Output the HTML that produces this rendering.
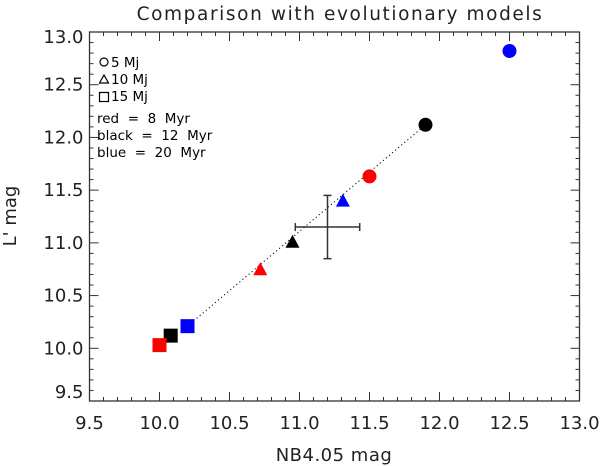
<!DOCTYPE html>
<html><head><meta charset="utf-8"><style>
html,body{margin:0;padding:0;background:#fff;}
svg{display:block;font-family:"DejaVu Sans","Liberation Sans",sans-serif;}
</style></head><body>
<svg id="chart" width="602" height="466" viewBox="0 0 602 466" xmlns="http://www.w3.org/2000/svg">
<text x="340" y="20" font-size="18.5" text-anchor="middle" fill="#222" letter-spacing="1.6">Comparison with evolutionary models</text>
<g id="axes"></g>
<g id="marks"></g>
<text x="334" y="461" font-size="18" text-anchor="middle" fill="#222" letter-spacing="0.5">NB4.05 mag</text>
<text transform="translate(16,216) rotate(-90)" font-size="18" text-anchor="middle" fill="#222">L' mag</text>
<g font-size="13.5" fill="#000">
<circle cx="104" cy="62" r="4" fill="none" stroke="#000" stroke-width="1.2"/>
<text x="111" y="67">5 Mj</text>
<polygon points="99.5,83 104,75 108.5,83" fill="none" stroke="#000" stroke-width="1.2"/>
<text x="111" y="84">10 Mj</text>
<rect x="99.5" y="92.5" width="9" height="9" fill="none" stroke="#000" stroke-width="1.2"/>
<text x="111" y="101">15 Mj</text>
<text x="97" y="123" xml:space="preserve">red  =  8  Myr</text>
<text x="97" y="140" xml:space="preserve">black  =  12  Myr</text>
<text x="97" y="157" xml:space="preserve">blue  =  20  Myr</text>
</g>
</svg>
<script>
const xTicks=[9.5,10.0,10.5,11.0,11.5,12.0,12.5,13.0];
const yTicks=[9.5,10.0,10.5,11.0,11.5,12.0,12.5,13.0];
const ptX=[12.5,11.9,11.5,11.31,10.95,10.72,10.2,10.08,10.0];
const ptY=[12.82,12.12,11.63,11.40,11.01,10.75,10.21,10.12,10.03];
const ptShape=["circle","circle","circle","tri","tri","tri","sq","sq","sq"];
const ptColor=["blue","black","red","blue","black","red","blue","black","red"];
const lineX=[10.2,11.9];
const lineY=[10.21,12.12];
const obsX=[11.2];const obsY=[11.15];const obsXerr=[0.23];const obsYerr=[0.30];
const L=89.5,R=579.5,T=32,B=401;
const sx=v=>L+(v-9.5)/(13-9.5)*(R-L);
const sy=v=>B-(v-9.5)/(13-9.5)*(B-T);
const NS="http://www.w3.org/2000/svg";
function mk(tag,attrs,parent){const e=document.createElementNS(NS,tag);for(const k in attrs)e.setAttribute(k,attrs[k]);parent.appendChild(e);return e;}
const ax=document.getElementById('axes');
const fr=mk('rect',{x:L,y:T,width:R-L,height:B-T,fill:'none',stroke:'#333','stroke-width':1.3},ax);


for(let i=0;i<=35;i++){const v=9.5+i*0.1;const maj=i%5===0;const len=maj?9:4;
 const x=sx(v),y=sy(v);
 mk('line',{x1:x,y1:B,x2:x,y2:B-len,stroke:'#333'},ax);
 mk('line',{x1:x,y1:T,x2:x,y2:T+len,stroke:'#333'},ax);
 mk('line',{x1:L,y1:y,x2:L+len,y2:y,stroke:'#333'},ax);
 mk('line',{x1:R,y1:y,x2:R-len,y2:y,stroke:'#333'},ax);}
xTicks.forEach(v=>{const t=mk('text',{x:sx(v),y:429,'font-size':18,'text-anchor':'middle',fill:'#222'},ax);t.textContent=v.toFixed(1);

});
yTicks.forEach((v,i)=>{const yy=i===0?sy(v)-3:(i===yTicks.length-1?sy(v)+11:sy(v)+6);const t=mk('text',{x:L-6,y:yy,'font-size':18,'text-anchor':'end',fill:'#222'},ax);t.textContent=v.toFixed(1);

});
const mg=document.getElementById('marks');
const ln=mk('line',{x1:sx(lineX[0]),y1:sy(lineY[0]),x2:sx(lineX[1]),y2:sy(lineY[1]),stroke:'#000','stroke-width':1,'stroke-dasharray':'1.2,2.8'},mg);


ptX.forEach((v,i)=>{const x=sx(v),y=sy(ptY[i]),c=ptColor[i];let e;
 if(ptShape[i]==='circle')e=mk('circle',{cx:x,cy:y,r:7,fill:c},mg);
 else if(ptShape[i]==='tri')e=mk('polygon',{points:`${x-7},${y+6} ${x},${y-7} ${x+7},${y+6}`,fill:c},mg);
 else e=mk('rect',{x:x-7,y:y-7,width:14,height:14,fill:c},mg);
 
 });
const eg=mk('g',{stroke:'#333','stroke-width':1.5},mg);


const cx=sx(obsX[0]),cy=sy(obsY[0]),x1=sx(obsX[0]-obsXerr[0]),x2=sx(obsX[0]+obsXerr[0]),y1=sy(obsY[0]-obsYerr[0]),y2=sy(obsY[0]+obsYerr[0]);
mk('line',{x1:x1,y1:cy,x2:x2,y2:cy},eg);mk('line',{x1:x1,y1:cy-4,x2:x1,y2:cy+4},eg);mk('line',{x1:x2,y1:cy-4,x2:x2,y2:cy+4},eg);
mk('line',{x1:cx,y1:y1,x2:cx,y2:y2},eg);mk('line',{x1:cx-4,y1:y1,x2:cx+4,y2:y1},eg);mk('line',{x1:cx-4,y1:y2,x2:cx+4,y2:y2},eg);
</script>
</body></html>
